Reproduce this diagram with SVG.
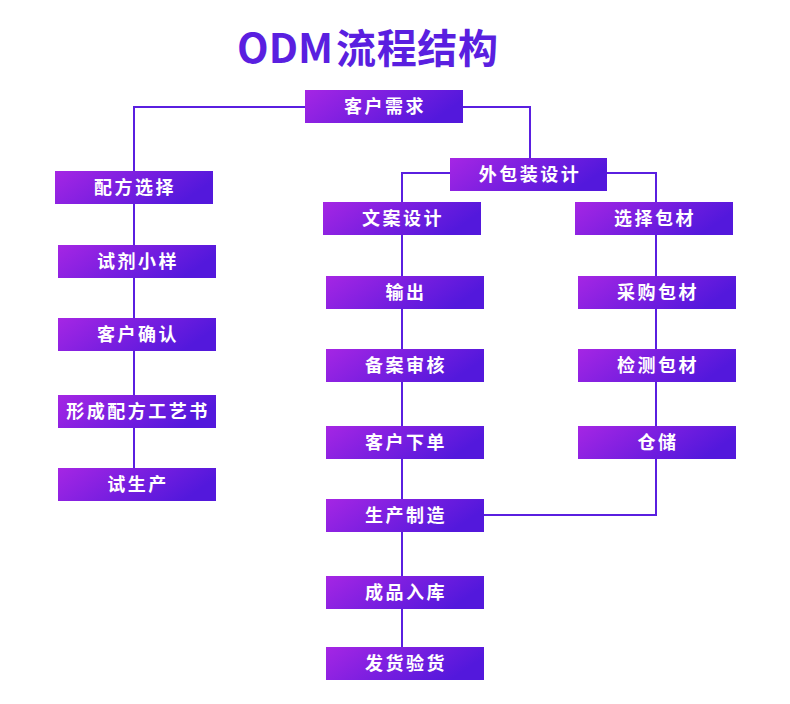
<svg xmlns="http://www.w3.org/2000/svg" width="790" height="704" viewBox="0 0 790 704">
<defs>
<linearGradient id="g" x1="0" y1="0" x2="1" y2="0.3">
<stop offset="0" stop-color="#a526e4"/>
<stop offset="1" stop-color="#5318dc"/>
</linearGradient>
<style>
.b{fill:url(#g)}
.t{fill:#fff;font-family:"Noto Sans CJK SC","Noto Sans",sans-serif;font-size:18px;font-weight:bold;text-anchor:middle;letter-spacing:2.5px}
.c{fill:none;stroke:#5a1fe0;stroke-width:2}
.title{fill:#5a1fe0;font-family:"Noto Sans CJK SC","Noto Sans",sans-serif;font-size:40px;font-weight:bold}
</style>
</defs>
<rect width="790" height="704" fill="#fff"/>
<g id="title">
<text class="title" x="237" y="63" textLength="96" lengthAdjust="spacingAndGlyphs">ODM</text>
<text class="title" x="336" y="63" textLength="162" lengthAdjust="spacing">流程结构</text>
</g>
<g id="connectors">
<path class="c" d="M305 107H134V171"/>
<path class="c" d="M134 204V468"/>
<path class="c" d="M463 107H530V158"/>
<path class="c" d="M450 173H402V202"/>
<path class="c" d="M607 173H656V202"/>
<path class="c" d="M402 235V647"/>
<path class="c" d="M656 235V426"/>
<path class="c" d="M656 459V515H484"/>
</g>
<g id="n1"><rect class="b" x="305" y="90" width="158" height="33"/><text class="t" x="385" y="113">客户需求</text></g>
<g id="n2"><rect class="b" x="55" y="171" width="158" height="33"/><text class="t" x="135" y="194">配方选择</text></g>
<g id="n3"><rect class="b" x="58" y="245" width="158" height="33"/><text class="t" x="138" y="268">试剂小样</text></g>
<g id="n4"><rect class="b" x="58" y="318" width="158" height="33"/><text class="t" x="138" y="341">客户确认</text></g>
<g id="n5"><rect class="b" x="58" y="395" width="158" height="33"/><text class="t" x="138" y="418">形成配方工艺书</text></g>
<g id="n6"><rect class="b" x="58" y="468" width="158" height="33"/><text class="t" x="138" y="491">试生产</text></g>
<g id="n7"><rect class="b" x="450" y="158" width="157" height="33"/><text class="t" x="530" y="181">外包装设计</text></g>
<g id="n8"><rect class="b" x="323" y="202" width="158" height="33"/><text class="t" x="403" y="225">文案设计</text></g>
<g id="n9"><rect class="b" x="575" y="202" width="158" height="33"/><text class="t" x="655" y="225">选择包材</text></g>
<g id="n10"><rect class="b" x="326" y="276" width="158" height="33"/><text class="t" x="406" y="299">输出</text></g>
<g id="n11"><rect class="b" x="326" y="349" width="158" height="33"/><text class="t" x="406" y="372">备案审核</text></g>
<g id="n12"><rect class="b" x="326" y="426" width="158" height="33"/><text class="t" x="406" y="449">客户下单</text></g>
<g id="n13"><rect class="b" x="326" y="499" width="158" height="33"/><text class="t" x="406" y="522">生产制造</text></g>
<g id="n14"><rect class="b" x="326" y="576" width="158" height="33"/><text class="t" x="406" y="599">成品入库</text></g>
<g id="n15"><rect class="b" x="326" y="647" width="158" height="33"/><text class="t" x="406" y="670">发货验货</text></g>
<g id="n16"><rect class="b" x="578" y="276" width="158" height="33"/><text class="t" x="658" y="299">采购包材</text></g>
<g id="n17"><rect class="b" x="578" y="349" width="158" height="33"/><text class="t" x="658" y="372">检测包材</text></g>
<g id="n18"><rect class="b" x="578" y="426" width="158" height="33"/><text class="t" x="658" y="449">仓储</text></g>
</svg>
